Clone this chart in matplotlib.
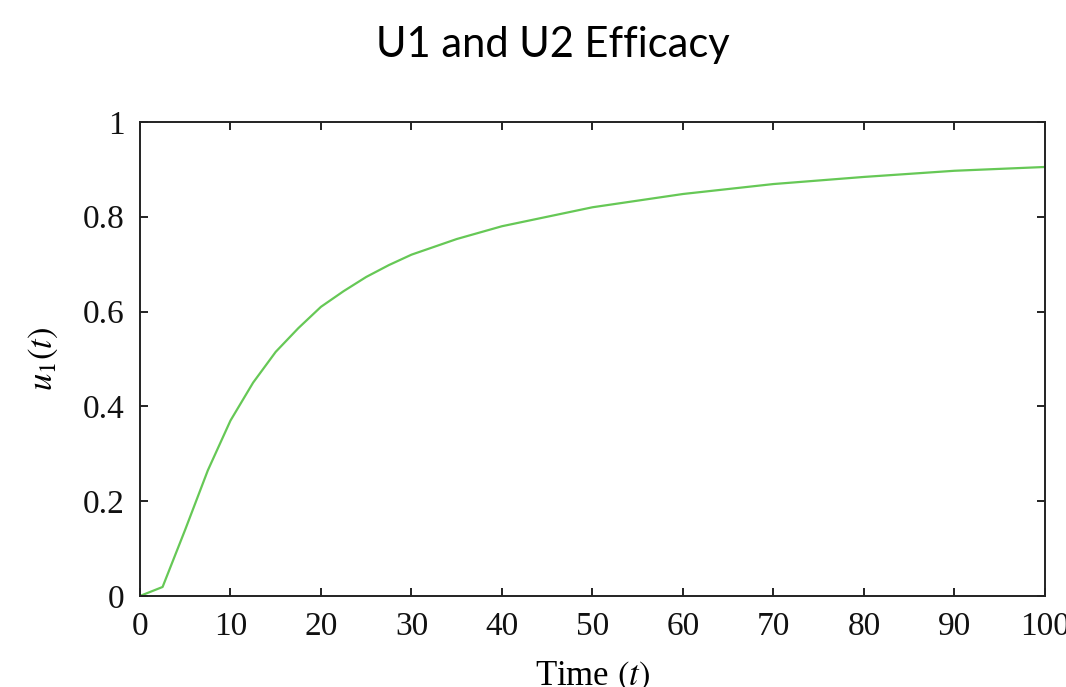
import numpy as np
import matplotlib
matplotlib.use('Agg')
import matplotlib.pyplot as plt

plt.rcParams['font.family'] = ['Liberation Serif', 'DejaVu Serif']
plt.rcParams['mathtext.fontset'] = 'stix'

# values
t = [0, 2.5, 5, 7.5, 10, 12.5, 15, 17.5, 20, 22.5, 25, 27.5, 30, 35, 40,
     45, 50, 60, 70, 80, 90, 100]
u1 = [0, 0.019, 0.14, 0.265, 0.37, 0.45, 0.515, 0.565, 0.61, 0.643, 0.673,
      0.698, 0.72, 0.753, 0.78, 0.80, 0.82, 0.848, 0.869, 0.884, 0.897, 0.905]
xticks = [0, 10, 20, 30, 40, 50, 60, 70, 80, 90, 100]
yticks = [0, 0.2, 0.4, 0.6, 0.8, 1]
ytick_labels = ['0', '0.2', '0.4', '0.6', '0.8', '1']

fig = plt.figure(figsize=(10.66, 6.87), dpi=100)
ax = fig.add_axes([0.1313, 0.1325, 0.849, 0.69])

ax.plot(t, u1, color='#66c856', lw=1.6)

ax.set_xlim(0, 100)
ax.set_ylim(0, 1)
ax.set_xticks(xticks)
ax.set_yticks(yticks)
ax.set_yticklabels(ytick_labels)
ax.tick_params(direction='in', length=6, width=1.4, labelsize=24, pad=11,
               top=True, right=True, colors='#222222', labelcolor='#111111')
for s in ax.spines.values():
    s.set_linewidth(1.4)
    s.set_color('#222222')

ax.set_xlabel('Time $(t)$', fontsize=25)
ax.set_ylabel('$u_1(t)$', fontsize=25)
ax.xaxis.set_label_coords(0.5, -0.135)
ax.yaxis.set_label_coords(-0.088, 0.5)

fig.suptitle('U1 and U2 Efficacy', family='Lato', fontsize=30, y=0.934,
             va='center', x=0.519)

fig.savefig('out.png', dpi=100)
